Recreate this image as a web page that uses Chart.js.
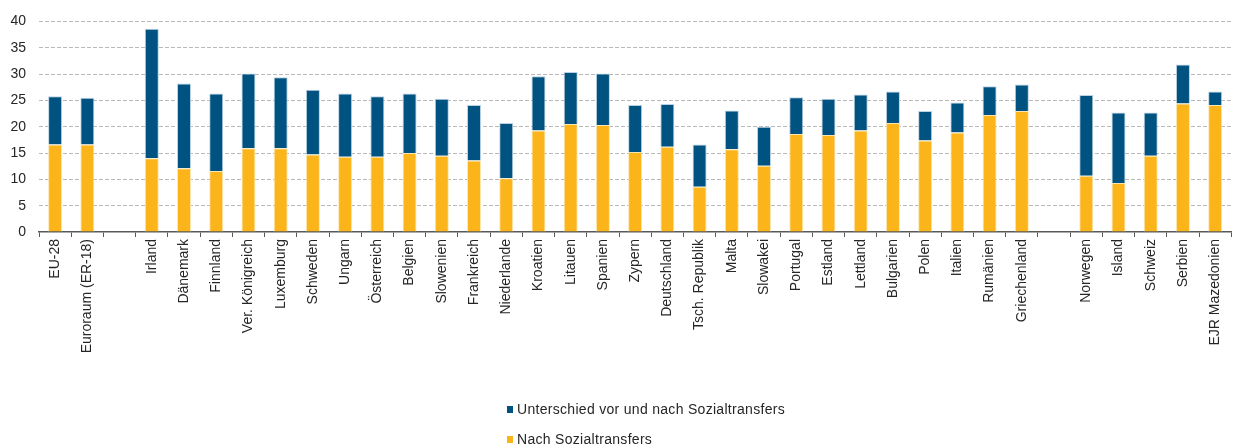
<!DOCTYPE html>
<html lang="de">
<head>
<meta charset="utf-8">
<script src="https://cdn.jsdelivr.net/npm/chart.js@4/dist/chart.umd.min.js"></script>
<style>
    html, body { margin: 0; padding: 0; background: #fff; }
    #wrap { position: relative; width: 1234px; height: 448px; }
    #legende {
        position: absolute; left: 507px; top: 400px;
        font: 14px "Liberation Sans", Arial, sans-serif; color: #262626;
        letter-spacing: 0.3px;
    }
    #legende div { height: 30px; line-height: 18px; white-space: nowrap; }
    #legende span.box {
        display: inline-block; width: 6px; height: 7px; margin-right: 4px;
        vertical-align: 1px;
    }
</style>
</head>
<body>
<div id="wrap">
    <canvas id="armut" width="1234" height="448"></canvas>
    <div id="legende"></div>
</div>
<script>
// Laender, leere Eintraege = Luecke zwischen den Gruppen
const laender = [
    "EU-28", "Euroraum (ER-18)", "",
    "Irland", "Dänemark", "Finnland", "Ver. Königreich", "Luxemburg", "Schweden",
    "Ungarn", "Österreich", "Belgien", "Slowenien", "Frankreich", "Niederlande",
    "Kroatien", "Litauen", "Spanien", "Zypern", "Deutschland", "Tsch. Republik",
    "Malta", "Slowakei", "Portugal", "Estland", "Lettland", "Bulgarien",
    "Polen", "Italien", "Rumänien", "Griechenland", "",
    "Norwegen", "Island", "Schweiz", "Serbien", "EJR Mazedonien"
];

// Armutsgefaehrdungsquote nach Sozialtransfers (%)
const nachTransfers = [
    16.6, 16.6, null,
    14.0, 12.1, 11.6, 15.9, 15.9, 14.7,
    14.3, 14.3, 15.0, 14.5, 13.6, 10.2,
    19.3, 20.5, 20.3, 15.2, 16.2, 8.6,
    15.7, 12.6, 18.6, 18.4, 19.3, 20.7,
    17.4, 18.9, 22.2, 23.0, null,
    10.7, 9.3, 14.5, 24.4, 24.1
];

// Differenz vor / nach Sozialtransfers (Prozentpunkte)
const unterschied = [
    9.2, 8.9, null,
    24.6, 16.1, 14.7, 14.2, 13.5, 12.3,
    12.0, 11.5, 11.3, 10.8, 10.5, 10.5,
    10.3, 9.9, 9.8, 8.9, 8.1, 8.0,
    7.4, 7.4, 7.0, 6.9, 6.8, 6.0,
    5.6, 5.7, 5.5, 5.0, null,
    15.3, 13.4, 8.2, 7.4, 2.6
];

const yTicks = [0, 5, 10, 15, 20, 25, 30, 35, 40];

const GELB = "#fbb51a";
const BLAU = "#005280";
const schrift = { family: "'Liberation Sans', Arial, sans-serif", size: 14 };

const chart = new Chart(document.getElementById("armut").getContext("2d"), {
    type: "bar",
    data: {
        labels: laender,
        datasets: [
            {
                label: "Nach Sozialtransfers",
                data: nachTransfers,
                backgroundColor: GELB,
                borderColor: "#fde6b0",
                borderWidth: 1
            },
            {
                label: "Unterschied vor und nach Sozialtransfers",
                data: unterschied,
                backgroundColor: BLAU,
                borderColor: "#b9d2e3",
                borderWidth: 1
            }
        ]
    },
    options: {
        responsive: false,
        animation: false,
        events: [],
        layout: { padding: { top: 18, right: 2, left: 0, bottom: 0 } },
        datasets: {
            bar: { categoryPercentage: 1, barPercentage: 0.435 }
        },
        plugins: {
            legend: { display: false },
            tooltip: { enabled: false }
        },
        scales: {
            x: {
                stacked: true,
                afterFit: s => { s.height = 216; },
                border: { display: true, color: "#595959", width: 1.5 },
                grid: {
                    offset: true,
                    drawOnChartArea: false,
                    drawTicks: true,
                    tickLength: 5,
                    color: "#595959",
                    lineWidth: 1
                },
                ticks: {
                    autoSkip: false,
                    maxRotation: 90,
                    minRotation: 90,
                    padding: 2,
                    color: "#262626",
                    font: schrift
                }
            },
            y: {
                stacked: true,
                min: 0,
                max: 40,
                afterFit: s => { s.width = 39; },
                afterBuildTicks: s => { s.ticks = yTicks.map(v => ({ value: v })); },
                // gestrichelte Gitterlinien
                border: { display: false, dash: [4, 2] },
                grid: {
                    drawTicks: false,
                    color: c => c.tick.value === 0 ? "rgba(0,0,0,0)" : "#b8b8b8",
                    lineWidth: 1
                },
                ticks: {
                    padding: 13,
                    color: "#262626",
                    font: schrift
                }
            }
        }
    }
});

// Legende: blaue Reihe oben, gelbe unten
const legende = document.getElementById("legende");
chart.data.datasets.slice().reverse().forEach(ds => {
    const zeile = document.createElement("div");
    const box = document.createElement("span");
    box.className = "box";
    box.style.background = ds.backgroundColor;
    zeile.appendChild(box);
    zeile.appendChild(document.createTextNode(ds.label));
    legende.appendChild(zeile);
});
</script>
</body>
</html>
